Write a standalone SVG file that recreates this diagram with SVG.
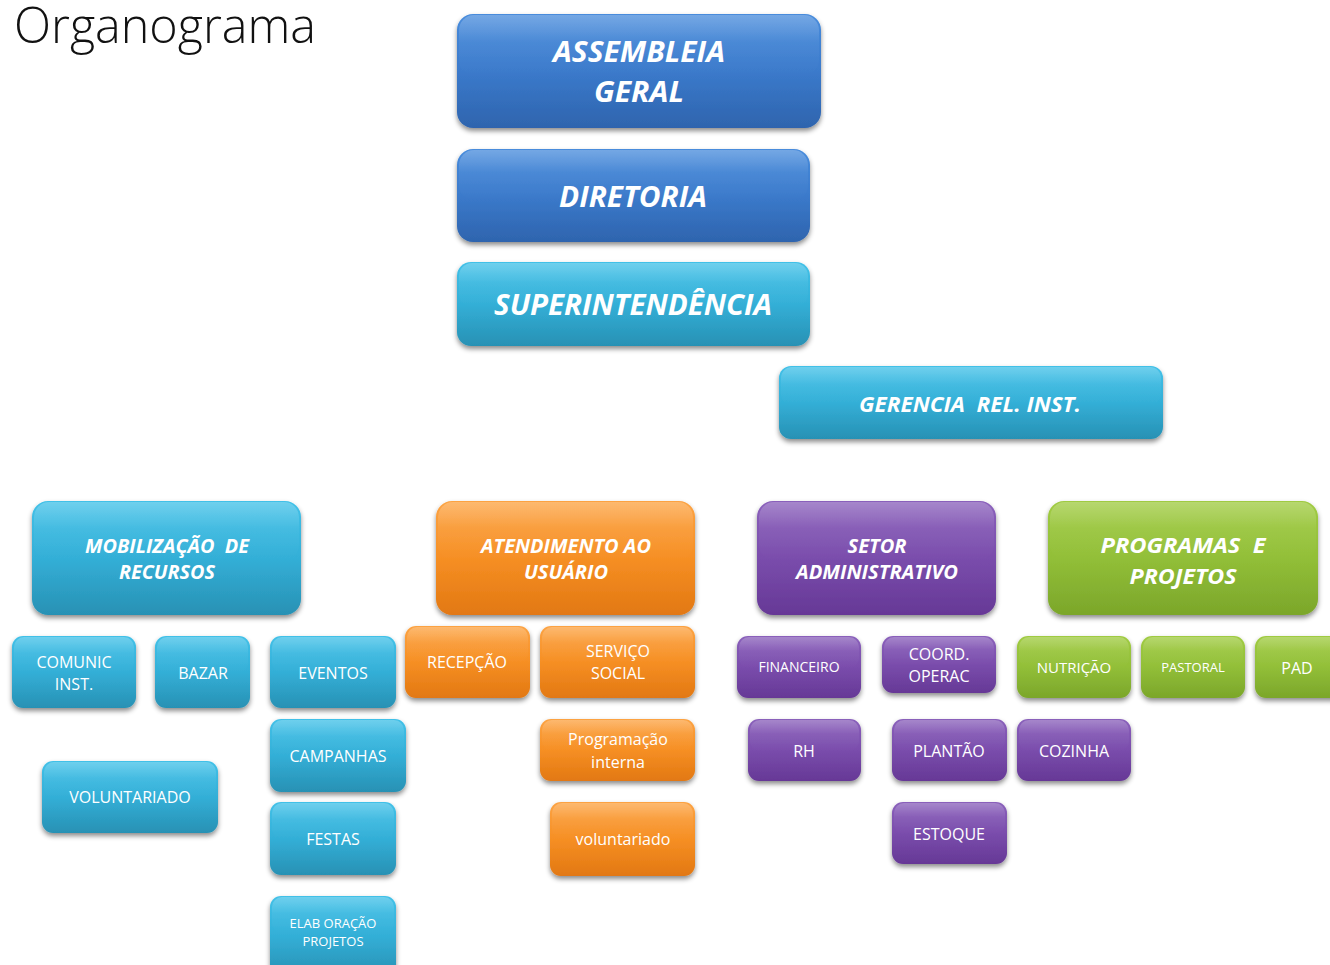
<svg xmlns="http://www.w3.org/2000/svg" width="1330" height="965" viewBox="0 0 1330 965">
<defs>
  <linearGradient id="gBlue" x1="0" y1="0" x2="0" y2="1">
    <stop offset="0" stop-color="#488cdc"/><stop offset="0.5" stop-color="#3b7acb"/><stop offset="1" stop-color="#2e64ae"/>
  </linearGradient>
  <linearGradient id="gCyan" x1="0" y1="0" x2="0" y2="1">
    <stop offset="0" stop-color="#42c1e8"/><stop offset="0.5" stop-color="#33afd7"/><stop offset="1" stop-color="#2891b4"/>
  </linearGradient>
  <linearGradient id="gOrange" x1="0" y1="0" x2="0" y2="1">
    <stop offset="0" stop-color="#fca343"/><stop offset="0.5" stop-color="#f68f24"/><stop offset="1" stop-color="#e27812"/>
  </linearGradient>
  <linearGradient id="gPurple" x1="0" y1="0" x2="0" y2="1">
    <stop offset="0" stop-color="#8a60bb"/><stop offset="0.5" stop-color="#7a4dac"/><stop offset="1" stop-color="#663896"/>
  </linearGradient>
  <linearGradient id="gGreen" x1="0" y1="0" x2="0" y2="1">
    <stop offset="0" stop-color="#a0cb42"/><stop offset="0.5" stop-color="#92bf38"/><stop offset="1" stop-color="#7ba62a"/>
  </linearGradient>
  <linearGradient id="gloss" x1="0" y1="0" x2="0" y2="1">
    <stop offset="0" stop-color="#ffffff" stop-opacity="0.24"/><stop offset="0.45" stop-color="#ffffff" stop-opacity="0.05"/><stop offset="1" stop-color="#ffffff" stop-opacity="0"/>
  </linearGradient>
  <filter id="sh" x="-10%" y="-10%" width="120%" height="130%">
    <feDropShadow dx="0" dy="3" stdDeviation="2.5" flood-color="#000" flood-opacity="0.45"/>
  </filter>
</defs>
<style>
  .box{filter:url(#sh);}
  .blue{fill:url(#gBlue);}
  .cyan{fill:url(#gCyan);}
  .orange{fill:url(#gOrange);}
  .purple{fill:url(#gPurple);}
  .green{fill:url(#gGreen);}
  .gl{fill:url(#gloss);}
  text{font-family:"Open Sans","Noto Sans","Liberation Sans",sans-serif;fill:#ffffff;text-anchor:middle;}
  .h{font-weight:bold;font-style:italic;}
  .h28{font-size:28px;}
  .h22{font-size:22px;}
  .h19{font-size:19px;}
  .s16{font-size:16px;}
  .s15{font-size:15px;}
  .s14{font-size:14px;}
  .s13{font-size:13px;}
  .title{font-family:"Open Sans","Noto Sans","Liberation Sans",sans-serif;font-weight:300;font-size:49px;fill:#111111;text-anchor:start;}
</style>
<rect width="1330" height="965" fill="#ffffff"/>
<text class="title" x="14" y="43" textLength="302" lengthAdjust="spacingAndGlyphs">Organograma</text>

<g id="connectors"/>

<g id="assembleia">
  <rect class="box blue" x="457" y="14" width="364" height="114" rx="16"/>
  <rect class="gl" x="459" y="15" width="360" height="60" rx="15"/>
  <text class="h h28" x="639" y="62" textLength="172" lengthAdjust="spacingAndGlyphs">ASSEMBLEIA</text>
  <text class="h h28" x="639" y="102" textLength="90" lengthAdjust="spacingAndGlyphs">GERAL</text>
</g>
<g id="diretoria">
  <rect class="box blue" x="457" y="149" width="353" height="93" rx="16"/>
  <rect class="gl" x="459" y="150" width="349" height="50" rx="15"/>
  <text class="h h28" x="633" y="207" textLength="148" lengthAdjust="spacingAndGlyphs">DIRETORIA</text>
</g>
<g id="superintendencia">
  <rect class="box cyan" x="457" y="262" width="353" height="84" rx="14"/>
  <rect class="gl" x="459" y="263" width="349" height="44" rx="13"/>
  <text class="h h28" x="633" y="315" textLength="278" lengthAdjust="spacingAndGlyphs">SUPERINTENDÊNCIA</text>
</g>
<g id="gerencia">
  <rect class="box cyan" x="779" y="366" width="384" height="73" rx="12"/>
  <rect class="gl" x="781" y="367" width="380" height="38" rx="11"/>
  <text class="h h22" x="970" y="412" textLength="222" lengthAdjust="spacingAndGlyphs" xml:space="preserve">GERENCIA  REL. INST.</text>
</g>

<g id="mobilizacao">
  <rect class="box cyan" x="32" y="501" width="269" height="114" rx="16"/>
  <rect class="gl" x="34" y="502" width="265" height="58" rx="15"/>
  <text class="h h19" x="167" y="553" textLength="164" lengthAdjust="spacingAndGlyphs" xml:space="preserve">MOBILIZAÇÃO  DE</text>
  <text class="h h19" x="167" y="579" textLength="96" lengthAdjust="spacingAndGlyphs">RECURSOS</text>
</g>
<g id="atendimento">
  <rect class="box orange" x="436" y="501" width="259" height="114" rx="16"/>
  <rect class="gl" x="438" y="502" width="255" height="58" rx="15"/>
  <text class="h h19" x="566" y="553" textLength="170" lengthAdjust="spacingAndGlyphs">ATENDIMENTO AO</text>
  <text class="h h19" x="566" y="579" textLength="84" lengthAdjust="spacingAndGlyphs">USUÁRIO</text>
</g>
<g id="setor-adm">
  <rect class="box purple" x="757" y="501" width="239" height="114" rx="16"/>
  <rect class="gl" x="759" y="502" width="235" height="58" rx="15"/>
  <text class="h h19" x="877" y="553" textLength="59" lengthAdjust="spacingAndGlyphs">SETOR</text>
  <text class="h h19" x="877" y="579" textLength="162" lengthAdjust="spacingAndGlyphs">ADMINISTRATIVO</text>
</g>
<g id="programas">
  <rect class="box green" x="1048" y="501" width="270" height="114" rx="16"/>
  <rect class="gl" x="1050" y="502" width="266" height="58" rx="15"/>
  <text class="h h22" x="1183" y="553" textLength="165" lengthAdjust="spacingAndGlyphs" xml:space="preserve">PROGRAMAS  E</text>
  <text class="h h22" x="1183" y="584" textLength="107" lengthAdjust="spacingAndGlyphs">PROJETOS</text>
</g>

<g id="comunic">
  <rect class="box cyan" x="12" y="636" width="124" height="72" rx="11"/>
  <rect class="gl" x="14" y="637" width="120" height="36" rx="10"/>
  <text class="s16" x="74" y="668">COMUNIC</text>
  <text class="s16" x="74" y="690">INST.</text>
</g>
<g id="bazar">
  <rect class="box cyan" x="155" y="636" width="95" height="72" rx="11"/>
  <rect class="gl" x="157" y="637" width="91" height="36" rx="10"/>
  <text class="s16" x="203" y="679">BAZAR</text>
</g>
<g id="eventos">
  <rect class="box cyan" x="270" y="636" width="126" height="72" rx="11"/>
  <rect class="gl" x="272" y="637" width="122" height="36" rx="10"/>
  <text class="s16" x="333" y="679">EVENTOS</text>
</g>
<g id="campanhas">
  <rect class="box cyan" x="270" y="719" width="136" height="73" rx="11"/>
  <rect class="gl" x="272" y="720" width="132" height="36" rx="10"/>
  <text class="s16" x="338" y="762">CAMPANHAS</text>
</g>
<g id="festas">
  <rect class="box cyan" x="270" y="802" width="126" height="73" rx="11"/>
  <rect class="gl" x="272" y="803" width="122" height="36" rx="10"/>
  <text class="s16" x="333" y="845">FESTAS</text>
</g>
<g id="elaboracao">
  <rect class="box cyan" x="270" y="896" width="126" height="80" rx="11"/>
  <rect class="gl" x="272" y="897" width="122" height="36" rx="10"/>
  <text class="s13" x="333" y="928">ELAB ORAÇÃO</text>
  <text class="s13" x="333" y="946">PROJETOS</text>
</g>
<g id="voluntariado-mob">
  <rect class="box cyan" x="42" y="761" width="176" height="72" rx="11"/>
  <rect class="gl" x="44" y="762" width="172" height="36" rx="10"/>
  <text class="s16" x="130" y="803">VOLUNTARIADO</text>
</g>

<g id="recepcao">
  <rect class="box orange" x="405" y="626" width="125" height="72" rx="11"/>
  <rect class="gl" x="407" y="627" width="121" height="36" rx="10"/>
  <text class="s16" x="467" y="668">RECEPÇÃO</text>
</g>
<g id="servico-social">
  <rect class="box orange" x="540" y="626" width="155" height="72" rx="11"/>
  <rect class="gl" x="542" y="627" width="151" height="36" rx="10"/>
  <text class="s16" x="618" y="657">SERVIÇO</text>
  <text class="s16" x="618" y="679">SOCIAL</text>
</g>
<g id="programacao">
  <rect class="box orange" x="540" y="719" width="155" height="62" rx="11"/>
  <rect class="gl" x="542" y="720" width="151" height="31" rx="10"/>
  <text class="s16" x="618" y="745">Programação</text>
  <text class="s16" x="618" y="768">interna</text>
</g>
<g id="voluntariado-at">
  <rect class="box orange" x="550" y="802" width="145" height="74" rx="11"/>
  <rect class="gl" x="552" y="803" width="141" height="36" rx="10"/>
  <text class="s16" x="623" y="845">voluntariado</text>
</g>

<g id="financeiro">
  <rect class="box purple" x="737" y="636" width="124" height="62" rx="11"/>
  <rect class="gl" x="739" y="637" width="120" height="31" rx="10"/>
  <text class="s14" x="799" y="672">FINANCEIRO</text>
</g>
<g id="coord-operac">
  <rect class="box purple" x="882" y="636" width="114" height="57" rx="11"/>
  <rect class="gl" x="884" y="637" width="110" height="28" rx="10"/>
  <text class="s16" x="939" y="660">COORD.</text>
  <text class="s16" x="939" y="682">OPERAC</text>
</g>
<g id="rh">
  <rect class="box purple" x="748" y="719" width="113" height="62" rx="11"/>
  <rect class="gl" x="750" y="720" width="109" height="31" rx="10"/>
  <text class="s16" x="804" y="757">RH</text>
</g>
<g id="plantao">
  <rect class="box purple" x="892" y="719" width="115" height="62" rx="11"/>
  <rect class="gl" x="894" y="720" width="111" height="31" rx="10"/>
  <text class="s16" x="949" y="757">PLANTÃO</text>
</g>
<g id="estoque">
  <rect class="box purple" x="892" y="802" width="115" height="62" rx="11"/>
  <rect class="gl" x="894" y="803" width="111" height="31" rx="10"/>
  <text class="s16" x="949" y="840">ESTOQUE</text>
</g>
<g id="cozinha">
  <rect class="box purple" x="1017" y="719" width="114" height="62" rx="11"/>
  <rect class="gl" x="1019" y="720" width="110" height="31" rx="10"/>
  <text class="s16" x="1074" y="757">COZINHA</text>
</g>

<g id="nutricao">
  <rect class="box green" x="1017" y="636" width="114" height="62" rx="11"/>
  <rect class="gl" x="1019" y="637" width="110" height="31" rx="10"/>
  <text class="s15" x="1074" y="673">NUTRIÇÃO</text>
</g>
<g id="pastoral">
  <rect class="box green" x="1141" y="636" width="104" height="62" rx="11"/>
  <rect class="gl" x="1143" y="637" width="100" height="31" rx="10"/>
  <text class="s13" x="1193" y="672">PASTORAL</text>
</g>
<g id="pad">
  <rect class="box green" x="1255" y="636" width="100" height="62" rx="11"/>
  <rect class="gl" x="1257" y="637" width="96" height="31" rx="10"/>
  <text class="s16" x="1297" y="674">PAD</text>
</g>
</svg>
